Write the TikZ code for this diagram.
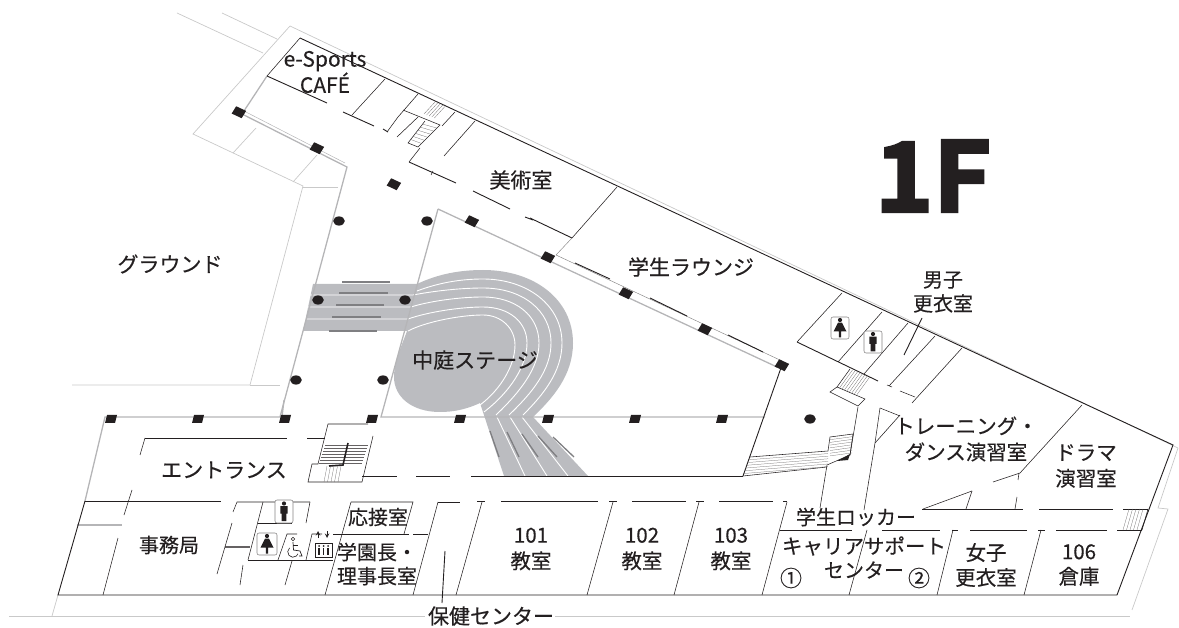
\documentclass[tikz,border=0pt]{standalone}
\usepackage{fontspec}
\setmainfont[FakeBold=0.35]{Noto Sans CJK JP}
\newfontfamily\floorfont[FakeBold=3]{Noto Sans CJK JP Bold}
\definecolor{wallblack}{HTML}{231F20}
\definecolor{wallgrey}{HTML}{B5B5B7}
\definecolor{sitegrey}{HTML}{C9C9C9}
\definecolor{trackgrey}{HTML}{BBBCC0}
\definecolor{markgrey}{HTML}{7F7F82}
\tikzset{
  wall/.style={draw=wallblack,line width=0.9pt},
  thinwall/.style={draw=wallblack,line width=0.55pt},
  greywall/.style={draw=wallgrey,line width=1.3pt},
  siteline/.style={draw=sitegrey,line width=0.7pt},
  hatch/.style={draw=wallblack!70,line width=0.25pt},
  trackline/.style={draw=white,line width=0.9pt},
  trackmark/.style={draw=markgrey,line width=1.3pt},
  roomlabel/.style={text=wallblack,font=\fontsize{21}{24}\selectfont,inner sep=0pt},
  smalllabel/.style={roomlabel,font=\fontsize{20}{24}\selectfont},
  pillar/.style={fill=wallblack},
  iconbox/.style={draw=wallblack!55,line width=0.55pt,rounded corners=2pt,fill=white},
}
% person icons, in reference pixels
\tikzset{
  maleicon/.pic={
    \fill[wallblack] (0,-8) circle (2.1);
    \fill[wallblack] (-3.6,-5.3) -- (3.6,-5.3) -- (3.6,2) -- (2.3,2) -- (2.3,9.5) -- (-2.3,9.5) -- (-2.3,2) -- (-3.6,2) -- cycle;
  },
  femaleicon/.pic={
    \fill[wallblack] (0,-8) circle (2.1);
    \fill[wallblack] (-2,-5.3) -- (2,-5.3) -- (6.5,3.5) -- (1.2,3.5) -- (1.2,9.5) -- (-1.2,9.5) -- (-1.2,3.5) -- (-6.5,3.5) -- cycle;
  },
}
\begin{document}
\begin{tikzpicture}[x=1pt,y=-1pt]
\useasboundingbox (0,0) rectangle (1179,628);

% site outline
\draw[siteline] (177,13) -- (263,53);
\draw[siteline] (222,13) -- (277,39);
\draw[siteline] (1178,448) -- (290,26) -- (193,134) -- (303,186) -- (250,385) -- (72,385);
\draw[siteline] (250,385) -- (280,385);
\draw[siteline] (256,128) -- (233,153);
\draw[siteline] (293,182) -- (317,155);
\draw[siteline] (303,187) -- (338,187);
\draw[siteline] (1178,448) -- (1158,508) -- (1168,509) -- (1132,610);
\draw[siteline] (9,616.5) -- (425,616.5);
\draw[siteline] (555,616.5) -- (1130,616.5);
\draw[siteline] (58,595) -- (52,616);

% courtyard stage and tracks
\fill[trackgrey] (313,284) -- (417,284)
  .. controls (438,274) and (460,270) .. (483,270)
  .. controls (535,270) and (573,300) .. (573,343)
  .. controls (573,375) and (553,398) .. (533,417)
  -- (588,476) -- (504,476) -- (480,403)
  .. controls (465,410) and (452,412) .. (440,412)
  .. controls (412,412) and (394,397) .. (394,377)
  .. controls (394,362) and (400,350) .. (407,331)
  -- (303,331) -- cycle;
\draw[trackline] (417,291) .. controls (438,283) and (460,279) .. (483,279)
  .. controls (527,279) and (562,305) .. (562,343) .. controls (562,372) and (543,395) .. (523,415);
\draw[trackline] (309,295) -- (413,295) .. controls (434,291) and (460,288) .. (483,288)
  .. controls (522,288) and (551,310) .. (551,343) .. controls (551,370) and (532,393) .. (509,415);
\draw[trackline] (306,307) -- (411,307) .. controls (430,301) and (460,297) .. (483,297)
  .. controls (515,297) and (539,315) .. (539,343) .. controls (539,368) and (520,392) .. (496,415);
\draw[trackline] (303,319) -- (408,319) .. controls (428,312) and (460,307) .. (483,307)
  .. controls (509,307) and (527,322) .. (527,343) .. controls (527,366) and (510,392) .. (484,412);
\draw[trackline] (408,331) .. controls (425,322) and (460,315) .. (483,315)
  .. controls (501,315) and (515,328) .. (515,345) .. controls (515,366) and (500,390) .. (480,405);
\draw[trackline] (497,417) -- (525,476);
\draw[trackline] (510,417) -- (547,476);
\draw[trackline] (522,417) -- (568,476);
\foreach \xa/\xb/\ya in {342/390/282,339/388/293,336/384/305,332/381/317,329/377/331}
  \draw[trackmark] (\xa,\ya) -- (\xb,\ya);
\foreach \xa/\ya/\xb in {490/431/499,507/432/519,522/434/538,538/436/557,553/437/574}
  \draw[trackmark] (\xa,\ya) -- (\xb,457);

% grey walls
\draw[greywall] (267,76) -- (242,114) -- (347,167) -- (280,417) -- (105,417) -- (85,501);
\draw[wallgrey,line width=0.5pt] (244,111) -- (345,163);
\draw[greywall] (282,417) -- (284,400);
\draw[greywall] (438,209) -- (381,417) -- (765,417);
\draw[greywall] (438,209) -- (777,367);
\draw[wallgrey,line width=1.3pt] (77,525) -- (122,525);
\draw[wallblack!70,line width=1.2pt] (225,547) -- (250,547);

% outer walls
\draw[wall] (300,38) -- (1173,445) -- (1117,595) -- (58,595) -- (85,501);
\draw[wall] (85,501) -- (221,501);

% north rooms
\draw[thinwall] (300,38) -- (267,76);
\draw[wall] (267,76) -- (327,103);
\draw[wall] (343,112) -- (374,126);
\draw[wall] (383,129) -- (388,132);
\draw[thinwall] (385,79) -- (352,115);
\draw[thinwall] (418,94) -- (398,117) -- (387,132);
\draw[thinwall] (418,117) -- (397,137);
\draw[thinwall] (403,110) -- (440,125) -- (418,147) -- (408,143) -- (425,121);
\foreach \f in {0.14,0.28,...,0.9}
  \draw[hatch] ({425-17*\f},{121+22*\f}) -- ({440-22*\f},{125+22*\f});
\foreach \i in {0,1,...,4}
  \draw[hatch] ({424+\i*2.6},{114+\i*1}) -- ({435+\i*2.6},{102+\i*1});
\draw[thinwall] (455,112) -- (442,126);
\draw[thinwall] (475,121) -- (444,156);
\draw[thinwall] (420,148) -- (409,162);
\draw[wall] (409,162) -- (456,183);
\draw[thinwall] (433,171) -- (431,175);
\draw[wall] (473,191) -- (510,209);
\draw[wall] (525,217) -- (533,220);
\draw[wall] (530,218) -- (572,238);
\draw[thinwall] (617,187) -- (572,238);
\draw[wallblack!60,line width=0.4pt] (572,238) -- (556,255);

% lounge front wall
\draw[wallblack!60,line width=0.4pt] (556,255) -- (782,361);
\draw[wall] (575,263) -- (610,279);
\draw[wall] (650,298) -- (687,316);
\draw[wall] (728,335) -- (763,352);
\draw[wall] (782,365) -- (743,476);

% east rooms
\draw[thinwall] (842,293) -- (797,342);
\draw[wall] (797,342) -- (878,381);
\draw[thinwall] (882,312) -- (838,362);
\draw[thinwall] (908,323) -- (864,374);
\draw[wall] (922,318) -- (904,355);
\draw[thinwall] (935,336) -- (889,386);
\draw[thinwall] (887,385) -- (892,387);
\draw[thinwall] (900,391) -- (915,397);
\draw[thinwall] (962,348) -- (912,403);
\draw[thinwall] (1082,405) -- (1020,473) -- (993,482);
\draw[thinwall] (972,491) -- (923,509);
\draw[thinwall] (972,491) -- (966,509);
\draw[thinwall] (1019,473) -- (1018,480);
\draw[thinwall] (1017,497) -- (1015,509);
\draw[thinwall] (880,408) -- (900,416);
\draw[thinwall] (900,415) -- (875,443);
\draw[thinwall] (880,408) -- (875,443) -- (864,510);
\draw[thinwall] (858,407) -- (850,455) -- (827,465) -- (820,508);

% east stairs
\draw[thinwall] (830,392) -- (858,406) -- (865,399) -- (837,387) -- cycle;
\draw[thinwall] (850,369) -- (837,387);
\foreach \i in {1,2,...,8}
  \draw[hatch] ({850+\i*2.5},{369+\i*0.95}) -- ({837+\i*2.5},{387+\i*0.95});
\draw[thinwall] (750,457) -- (828,451) -- (830,437) -- (853,434) -- (850,455);
\draw[thinwall] (743,476) -- (827,467);
\foreach \i in {1,2,...,6}
  \draw[hatch] ({750-\i*1},{457+\i*2.75}) -- ({828},{451+\i*2.6});
\foreach \i in {1,2,...,7}
  \draw[hatch] (830,{437+\i*2.7}) -- (852,{434+\i*2.7});
\fill[wallblack] (850,454) -- (837,461) -- (848,460) -- cycle;

% corridor doors
\draw[thinwall] (438,502) -- (460,502);
\draw[thinwall] (477,501) -- (485,501);
\draw[thinwall] (501,501) -- (598,501);
\draw[thinwall] (609,501) -- (617,501);
\draw[thinwall] (632,501) -- (686,501);
\draw[thinwall] (696,501) -- (704,501);
\draw[thinwall] (719,501) -- (773,501);
\draw[thinwall] (783,501) -- (787,501);
\draw[wall] (471,476) -- (743,476);
\draw[wall] (362,476) -- (397,476);
\draw[wall] (416,476) -- (450,476);

% classroom partitions
\draw[thinwall] (438,502) -- (413,595);
\draw[thinwall] (482,502) -- (456,595);
\draw[thinwall] (613,502) -- (587,595);
\draw[thinwall] (699,502) -- (674,595);
\draw[thinwall] (787,502) -- (762,595);
\draw[thinwall] (867,530) -- (849,595);
\draw[thinwall] (953,530) -- (937,595);
\draw[thinwall] (1041,530) -- (1024,595);
\foreach \xa/\xb in {780/852,882/940,952/958,970/1027,1038/1045,1056/1107,1117/1142}
  \draw[thinwall] (\xa,530) -- (\xb,530);
\foreach \xa/\xb in {922/1023,1039/1113,1123/1148}
  \draw[thinwall] (\xa,509) -- (\xb,509);
\foreach \i in {0,1,...,4}
  \draw[hatch] ({1129+\i*3.5},509) -- ({1123+\i*3.5},530);
\draw[thinwall] (1148,509) -- (1142,530);

% stairs at the entrance
\draw[thinwall] (145,438) -- (287,438);
\draw[thinwall] (145,438) -- (140,455);
\draw[thinwall] (307,438) -- (325,438);
\draw[thinwall] (368,424) -- (328,424) -- (318,464) -- (312,464) -- (308,482) -- (362,482) -- (373,436);
\foreach \i in {0,1,...,6}
  \draw[hatch] ({325-\i*1},{445+\i*3}) -- ({368-\i*1},{445+\i*3});
\foreach \i in {0,1,...,4}
  \draw[hatch] ({327+\i*3.5},466) -- ({324+\i*3.5},482);
\draw[wallblack,line width=1.6pt] (348,443) -- (343,465) -- (329,466);

% office block
\draw[thinwall] (132,490) -- (124,515);
\draw[thinwall] (118,538) -- (103,595);
\draw[thinwall] (310,502) -- (237,502) -- (233,512);
\draw[thinwall] (310,502) -- (306,523);
\draw[thinwall] (263,502) -- (248,560);
\draw[thinwall] (258,523) -- (292,523);
\draw[thinwall] (232,523) -- (217,574);
\draw[thinwall] (248,560) -- (333,560);
\draw[thinwall] (297,534) -- (287,534) -- (278,560);
\draw[thinwall] (322,534) -- (312,534) -- (306,560);
\draw[thinwall] (243,565) -- (240,585);
\draw[thinwall] (292,561) -- (285,585);
\draw[thinwall] (351,502) -- (413,502) -- (404,534);
\draw[thinwall] (351,502) -- (325,595);
\draw[thinwall] (333,534) -- (409,534);
\draw[thinwall] (413,534) -- (428,534);
\draw[wall] (445,551) -- (442,603);

% square pillars along the corridor
\foreach \px in {111,198,285,372,460,548,635,722}
  \fill[pillar] ({\px-4},415) -- ({\px+6},415) -- ({\px+4},423) -- ({\px-6},423) -- cycle;
% square pillars on the slanted walls
\foreach \px/\py in {239/112,317/148,394/184,472/221,548/257,626/293,705/329,782/365}
  \fill[pillar,rotate around={-25:(\px,\py)}] ({\px-5},{\py-4}) -- ({\px+6},{\py-4}) -- ({\px+5},{\py+4.5}) -- ({\px-6},{\py+4.5}) -- cycle;
% round pillars
\foreach \px/\py in {339/221,427/221,318/300,405/300,296/380,383/380,810/419}
  \fill[pillar] (\px,\py) ellipse (5.8 and 4.6);

% icons
\draw[iconbox] (275,500) rectangle (293,523);
\pic at (284,511.5) {maleicon};
\draw[iconbox] (257,533) rectangle (277,555);
\pic at (267,544) {femaleicon};
\draw[iconbox] (831,317) rectangle (849,339);
\pic at (840,328) {femaleicon};
\draw[iconbox] (864,331) rectangle (882,353);
\pic at (873,342) {maleicon};
% wheelchair
\draw[wallblack,line width=0.5pt] (293,539) circle (1.7);
\draw[wallblack,line width=0.7pt] (293,542) -- (293.5,550) -- (300,551) -- (302,556) -- (299,556);
\draw[wallblack,line width=0.7pt] (293,545) -- (298,545);
\draw[wallblack,line width=0.6pt] (289.6,547.9) arc[start angle=230,end angle=20,radius=5.3];
% lift
\draw[wallblack,line width=1pt] (315,543) rectangle (332,557);
\foreach \px in {319,323.5,328}
  \draw[wallblack,line width=1.5pt] (\px,548) -- (\px,555);
\foreach \px in {319,323.5,328}
  \fill[wallblack] (\px,546) circle (1);
\draw[wallblack,line width=1pt,-stealth] (318,538) -- (318,531);
\draw[wallblack,line width=1pt,-stealth] (327,531) -- (327,538);

% labels
\node[roomlabel,align=center,font=\fontsize{21}{24}\selectfont] (cafe) at (325,72) {e-Sports\\CAFÉ};
\node[roomlabel] (art) at (521,180) {美術室};
\node[roomlabel] (lounge) at (691,267) {学生ラウンジ};
\node[roomlabel] (ground) at (170,264) {グラウンド};
\node[text=wallblack,inner sep=0pt,xscale=1.03] (floor) at (933,176) {\floorfont\fontsize{96}{96}\selectfont 1F};
\node[smalllabel,align=center] (boys) at (943,292) {男子\\更衣室};
\node[roomlabel] (stage) at (475,360) {中庭ステージ};
\node[smalllabel,align=center,font=\fontsize{20.5}{26}\selectfont] (dance) at (966,439) {トレーニング・\\ダンス演習室};
\node[smalllabel,align=center,font=\fontsize{20.5}{26}\selectfont] (drama) at (1086,466) {ドラマ\\演習室};
\node[roomlabel] (entrance) at (224,470) {エントランス};
\node[smalllabel] (office) at (169,545) {事務局};
\node[smalllabel] (guest) at (378,517) {応接室};
\node[smalllabel,align=center] (chair) at (377,564) {学園長・\\理事長室};
\node[roomlabel] (health) at (491,616) {保健センター};
\node[smalllabel,align=center,font=\fontsize{20.5}{26}\selectfont] (room101) at (531,549) {101\\教室};
\node[smalllabel,align=center,font=\fontsize{20.5}{26}\selectfont] (room102) at (642,549) {102\\教室};
\node[smalllabel,align=center,font=\fontsize{20.5}{26}\selectfont] (room103) at (731,549) {103\\教室};
\node[smalllabel] (locker) at (856,517) {学生ロッカー};
\node[smalllabel,font=\fontsize{20.5}{24}\selectfont] (career) at (864,546) {キャリアサポート};
\node[smalllabel] (center) at (864,570) {センター};
\node[smalllabel,font=\fontsize{22}{24}\selectfont] (careerone) at (791,578) {①};
\node[smalllabel,font=\fontsize{22}{24}\selectfont] (careertwo) at (919,578) {②};
\node[smalllabel,align=center,font=\fontsize{20.5}{25}\selectfont] (girls) at (986,565) {女子\\更衣室};
\node[smalllabel,align=center,font=\fontsize{20.5}{25}\selectfont] (store) at (1079,565) {106\\倉庫};
\end{tikzpicture}
\end{document}
